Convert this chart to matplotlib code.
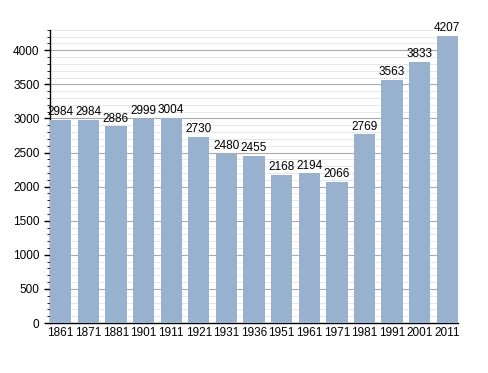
import numpy as np
import matplotlib
matplotlib.use("Agg")
import matplotlib.pyplot as plt
from matplotlib.ticker import MultipleLocator

years = ["1861", "1871", "1881", "1901", "1911", "1921", "1931", "1936",
         "1951", "1961", "1971", "1981", "1991", "2001", "2011"]
population = [2984, 2984, 2886, 2999, 3004, 2730, 2480, 2455,
              2168, 2194, 2066, 2769, 3563, 3833, 4207]

plt.rcParams['font.family'] = ['Liberation Sans', 'DejaVu Sans']

fig = plt.figure(figsize=(4.88, 3.73), dpi=100)
ax = fig.add_axes([0.1025, 0.134, 0.836, 0.786])

x = np.arange(len(years))
w = 0.77
ax.bar(x, population, width=w, align='edge', color='#98b1cf', zorder=3)
for xi, v in zip(x, population):
    ax.text(xi + w / 2, v + 25, str(v), ha='center', va='bottom', fontsize=8.5, zorder=4)

ax.set_xlim(0, len(years) - 1 + w)
ax.set_ylim(0, 4300)
ax.set_xticks(x + w / 2)
ax.set_xticklabels(years, fontsize=8.5)
ax.yaxis.set_major_locator(MultipleLocator(500))
ax.yaxis.set_minor_locator(MultipleLocator(100))
ax.tick_params(axis='y', labelsize=8.5, length=4, width=1)
ax.tick_params(axis='y', which='minor', length=2)
ax.tick_params(axis='x', length=0, pad=3)
ax.grid(axis='y', which='major', color='#aaaaaa', linewidth=0.8, zorder=0)
ax.grid(axis='y', which='minor', color='#e4e4e4', linewidth=0.6, zorder=0)
for s in ['top', 'right']:
    ax.spines[s].set_visible(False)
ax.spines['left'].set_linewidth(1)
ax.spines['bottom'].set_linewidth(1)

fig.savefig("out.png", dpi=100)
